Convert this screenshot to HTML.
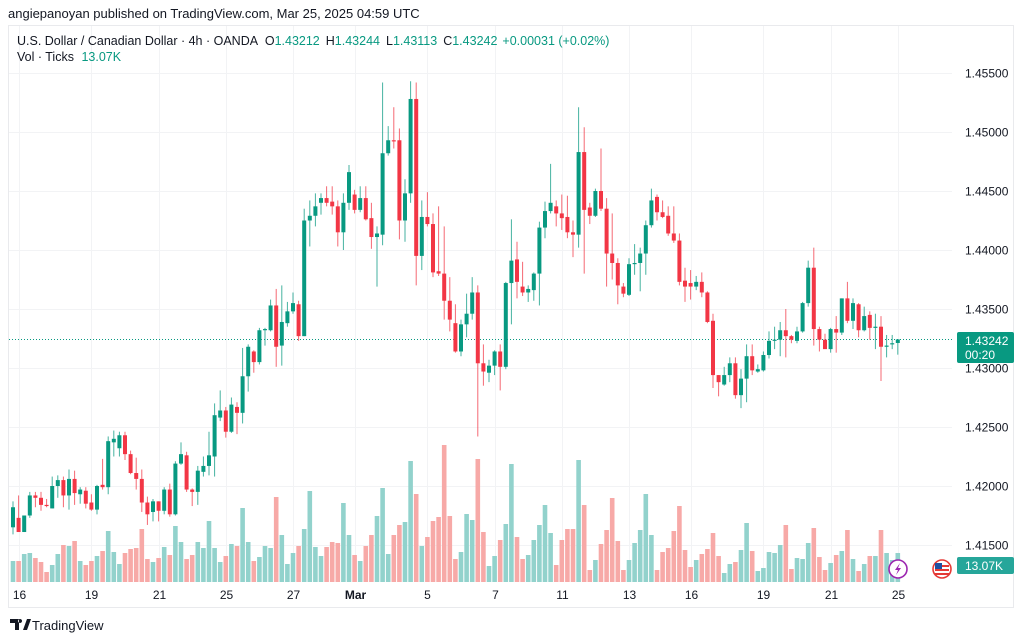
<!DOCTYPE html>
<html><head><meta charset="utf-8"><style>
html,body{margin:0;padding:0;background:#fff;width:1024px;height:641px;overflow:hidden;font-family:"Liberation Sans",sans-serif;}
#wrap{position:relative;width:1024px;height:641px;}
svg text{font-family:"Liberation Sans",sans-serif;}
</style></head><body><div id="wrap">
<svg id="chart" width="1024" height="641">
<text x="8" y="18" font-size="13" fill="#131722">angiepanoyan published on TradingView.com, Mar 25, 2025 04:59 UTC</text>
<rect x="8.5" y="25.5" width="1005" height="582" fill="none" stroke="#e9eaed"/>
<g id="grid"></g>
<g id="vol"></g>
<line x1="9" x2="952" y1="339.5" y2="339.5" stroke="#089981" stroke-dasharray="1,2"/>
<g id="candles"></g>
<g id="yaxis"></g>
<g id="xaxis"></g>
<text x="17" y="45" font-size="12.5" fill="#131722">U.S. Dollar / Canadian Dollar · 4h · OANDA <tspan dx="4">O</tspan><tspan fill="#089981">1.43212</tspan><tspan dx="6">H</tspan><tspan fill="#089981">1.43244</tspan><tspan dx="6">L</tspan><tspan fill="#089981">1.43113</tspan><tspan dx="6">C</tspan><tspan fill="#089981">1.43242</tspan><tspan dx="5" fill="#089981">+0.00031 (+0.02%)</tspan></text>
<text x="17" y="61" font-size="12.5" fill="#131722">Vol · Ticks <tspan dx="4" fill="#089981">13.07K</tspan></text>
<rect x="957" y="332" width="57" height="31" rx="2" fill="#089981"/>
<text x="965" y="345" font-size="12" fill="#fff">1.43242</text>
<text x="965" y="359" font-size="12" fill="#fff">00:20</text>
<rect x="957" y="557" width="57" height="17" rx="2" fill="#26a69a"/>
<text x="965" y="570" font-size="12" fill="#fff">13.07K</text>
<g><circle cx="898" cy="569" r="9" fill="#fff" stroke="#9c27b0" stroke-width="1.6"/><path d="M900 563 L895 570 L898 570 L896 575 L901 568 L898 568 Z" fill="#9c27b0"/></g>
<g><circle cx="942" cy="569" r="9" fill="#fff" stroke="#e53935" stroke-width="1.6"/><rect x="935" y="565" width="14" height="2" fill="#e53935"/><rect x="935" y="569" width="14" height="2" fill="#e53935"/><rect x="935" y="573" width="14" height="2" fill="#e53935"/><rect x="935" y="563" width="7" height="6" fill="#1e4fa1"/></g>
<g><path d="M10 619 h9 v11 h-4 v-7 h-5 z M20 619 a2 2 0 1 0 0.1 0 z M23 630 l4 -11 h4 l-4 11 z" fill="#131722"/><text x="32" y="630" font-size="13" fill="#131722">TradingView</text></g>
</svg></div>
<script>
const opens=[1.4165,1.4173,1.4161,1.4175,1.4192,1.4190,1.4184,1.4181,1.4200,1.4205,1.4192,1.4206,1.4193,1.4196,1.4186,1.4180,1.4201,1.4199,1.4237,1.4232,1.4243,1.4227,1.4211,1.4206,1.4186,1.4178,1.4187,1.4179,1.4197,1.4176,1.4219,1.4226,1.4197,1.4195,1.4212,1.4217,1.4225,1.4258,1.4264,1.4246,1.4267,1.4262,1.4293,1.4314,1.4305,1.4332,1.4332,1.4353,1.4319,1.4338,1.4348,1.4354,1.4327,1.4425,1.4429,1.4440,1.4444,1.4441,1.4437,1.4415,1.4440,1.4447,1.4434,1.4444,1.4427,1.4411,1.4413,1.4482,1.4493,1.4493,1.4425,1.4448,1.4528,1.4395,1.4428,1.4422,1.4382,1.4380,1.4357,1.4338,1.4314,1.4337,1.4346,1.4364,1.4304,1.4296,1.4302,1.4314,1.4301,1.4372,1.4392,1.4369,1.4364,1.4366,1.4380,1.4419,1.4433,1.4437,1.4431,1.4428,1.4415,1.4413,1.4483,1.4436,1.4429,1.4450,1.4435,1.4397,1.4389,1.4369,1.4362,1.4388,1.4389,1.4397,1.4421,1.4445,1.4432,1.4429,1.4414,1.4408,1.4374,1.4372,1.4369,1.4373,1.4364,1.4340,1.4294,1.4286,1.4294,1.4304,1.4277,1.4291,1.4310,1.4297,1.4298,1.4311,1.4323,1.4324,1.4332,1.4327,1.4323,1.4331,1.4355,1.4385,1.4333,1.4324,1.4316,1.4333,1.4330,1.4359,1.4340,1.4354,1.4332,1.4345,1.4334,1.4335,1.4318,1.4320,1.43212];
const highs=[1.4187,1.4192,1.4175,1.4195,1.4195,1.4195,1.4189,1.4208,1.4209,1.4208,1.4214,1.4213,1.4199,1.4199,1.4193,1.4201,1.4223,1.4242,1.4247,1.4246,1.4246,1.4230,1.4224,1.4214,1.4191,1.4189,1.4187,1.4199,1.4202,1.4221,1.4237,1.4229,1.4198,1.4217,1.4225,1.4246,1.4270,1.4281,1.4267,1.4275,1.4271,1.4317,1.4320,1.4315,1.4334,1.4334,1.4358,1.4367,1.4370,1.4356,1.4364,1.4357,1.4435,1.4442,1.4448,1.4448,1.4454,1.4454,1.4442,1.4448,1.4472,1.4451,1.4454,1.4454,1.4440,1.4420,1.4542,1.4505,1.4521,1.4503,1.4460,1.4543,1.4542,1.4442,1.4449,1.4431,1.4437,1.4420,1.4377,1.4354,1.4341,1.4363,1.4377,1.4370,1.4320,1.4307,1.4315,1.4320,1.4373,1.4426,1.4407,1.4390,1.4370,1.4381,1.4424,1.4441,1.4473,1.4442,1.4447,1.4446,1.4425,1.4521,1.4504,1.4440,1.4452,1.4486,1.4444,1.4431,1.4393,1.4372,1.4393,1.4405,1.4402,1.4425,1.4452,1.4447,1.4442,1.4437,1.4437,1.4414,1.4385,1.4383,1.4378,1.4381,1.4365,1.4346,1.4294,1.4301,1.4309,1.4309,1.4299,1.4320,1.4320,1.4303,1.4314,1.4331,1.4335,1.4339,1.4350,1.4328,1.4335,1.4356,1.4391,1.4402,1.4335,1.4329,1.4334,1.4344,1.4359,1.4373,1.4359,1.4355,1.4352,1.4348,1.4346,1.4344,1.4328,1.4328,1.43244];
const lows=[1.4159,1.4161,1.4161,1.4173,1.4182,1.4179,1.4182,1.4181,1.4190,1.4182,1.4180,1.4184,1.4185,1.4181,1.4179,1.4176,1.4197,1.4193,1.4225,1.4225,1.4222,1.4210,1.4197,1.4178,1.4167,1.4170,1.4170,1.4176,1.4174,1.4175,1.4218,1.4195,1.4183,1.4184,1.4208,1.4209,1.4208,1.4255,1.4241,1.4245,1.4244,1.4253,1.4280,1.4296,1.4303,1.4319,1.4331,1.4301,1.4302,1.4335,1.4346,1.4323,1.4327,1.4403,1.4420,1.4430,1.4437,1.4430,1.4403,1.4400,1.4434,1.4431,1.4432,1.4425,1.4401,1.4369,1.4404,1.4480,1.4486,1.4409,1.4407,1.4440,1.4370,1.4383,1.4420,1.4377,1.4378,1.4341,1.4331,1.4313,1.4310,1.4326,1.4341,1.4242,1.4285,1.4288,1.4294,1.4281,1.4299,1.4337,1.4359,1.4361,1.4356,1.4357,1.4353,1.4410,1.4431,1.4420,1.4417,1.4410,1.4394,1.4402,1.4380,1.4422,1.4428,1.4433,1.4369,1.4375,1.4354,1.4360,1.4361,1.4379,1.4365,1.4379,1.4419,1.4425,1.4427,1.4412,1.4406,1.4370,1.4356,1.4358,1.4366,1.4360,1.4338,1.4283,1.4276,1.4285,1.4288,1.4274,1.4266,1.4271,1.4294,1.4296,1.4297,1.4308,1.4316,1.4310,1.4309,1.4321,1.4321,1.4330,1.4352,1.4319,1.4314,1.4319,1.4313,1.4313,1.4328,1.4338,1.4333,1.4326,1.4331,1.4324,1.4316,1.4289,1.4309,1.4316,1.43113];
const closes=[1.4182,1.4161,1.4175,1.4192,1.4190,1.4184,1.4183,1.4200,1.4205,1.4192,1.4206,1.4194,1.4197,1.4185,1.4180,1.4200,1.4199,1.4238,1.4240,1.4243,1.4227,1.4211,1.4206,1.4186,1.4176,1.4187,1.4179,1.4197,1.4176,1.4219,1.4227,1.4197,1.4195,1.4213,1.4217,1.4226,1.4260,1.4264,1.4246,1.4269,1.4262,1.4293,1.4318,1.4305,1.4332,1.4333,1.4353,1.4318,1.4339,1.4348,1.4355,1.4327,1.4425,1.4429,1.4437,1.4444,1.4440,1.4437,1.4415,1.4440,1.4466,1.4434,1.4444,1.4426,1.4411,1.4414,1.4482,1.4493,1.4492,1.4425,1.4448,1.4528,1.4395,1.4428,1.4422,1.4381,1.4380,1.4357,1.4341,1.4314,1.4337,1.4346,1.4364,1.4304,1.4297,1.4302,1.4314,1.4301,1.4372,1.4391,1.4373,1.4364,1.4367,1.4380,1.4419,1.4433,1.4440,1.4431,1.4427,1.4415,1.4413,1.4483,1.4434,1.4429,1.4450,1.4435,1.4397,1.4389,1.4370,1.4363,1.4388,1.4389,1.4397,1.4421,1.4442,1.4432,1.4428,1.4414,1.4408,1.4373,1.4369,1.4369,1.4373,1.4364,1.4339,1.4294,1.4288,1.4294,1.4304,1.4277,1.4291,1.4310,1.4298,1.4299,1.4311,1.4323,1.4324,1.4332,1.4327,1.4324,1.4331,1.4355,1.4385,1.4333,1.4324,1.4316,1.4333,1.4330,1.4359,1.4340,1.4355,1.4332,1.4344,1.4334,1.4335,1.4318,1.4319,1.4321,1.43242];
const volumes=[21,21,28,29,24,20,10,17,28,37,36,41,21,17,21,26,31,51,30,18,29,33,34,53,23,20,24,35,27,56,40,23,27,40,34,61,34,20,26,38,36,74,40,21,25,36,34,85,47,18,29,36,53,91,35,26,35,40,39,79,47,27,21,36,47,66,94,28,47,57,60,121,88,36,45,61,65,137,66,23,30,68,62,123,50,16,26,42,58,118,45,23,27,42,57,77,49,17,42,53,53,122,77,12,22,38,52,84,41,12,22,39,52,88,47,12,30,34,51,76,32,15,22,28,33,49,26,9,18,20,32,59,31,11,14,30,29,37,57,13,24,23,39,54,25,12,19,27,31,52,23,11,18,26,26,52,29,22,29];
const priceTicks=[1.415,1.42,1.425,1.43,1.435,1.44,1.445,1.45,1.455];
const dateLabels=["16","19","21","25","27","Mar","5","7","11","13","16","19","21","25"];
const dateIndex=[1,14,26,38,50,61,74,86,98,110,121,134,146,158];

const NS="http://www.w3.org/2000/svg";
function mk(tag,attrs,parent){const e=document.createElementNS(NS,tag);for(const k in attrs)e.setAttribute(k,attrs[k]);parent.appendChild(e);return e;}
const yP=p=>250-(p-1.44)*11800;
const xI=i=>13+i*5.6;
const yV=v=>582-v;
const grid=document.getElementById('grid'),yax=document.getElementById('yaxis'),xax=document.getElementById('xaxis');
priceTicks.forEach(p=>{
  const y=Math.round(yP(p))+0.5;
  const l=mk('line',{x1:9,x2:952,y1:y,y2:y,stroke:'#f2f3f5'},grid);
  
  
  const t=mk('text',{x:965,y:y+4,'font-size':12,fill:'#131722'},yax);
  t.textContent=p.toFixed(5);
  
  
});
dateLabels.forEach((d,k)=>{
  const x=Math.round(xI(dateIndex[k]))+0.5;
  const l=mk('line',{x1:x,x2:x,y1:26,y2:582,stroke:'#f2f3f5'},grid);
  
  
  const t=mk('text',{x:x,y:599,'font-size':12,fill:'#131722','text-anchor':'middle','font-weight':d==='Mar'?'bold':'normal'},xax);
  t.textContent=d;
  
  
});
const vg=document.getElementById('vol'),cg=document.getElementById('candles');
opens.forEach((o,i)=>{
  const c=closes[i],up=c>=o,x=xI(i);
  const vb=mk('rect',{x:x-2.3,y:yV(volumes[i]),width:4.6,height:volumes[i],fill:up?'#92d2cc':'#f7a9a7'},vg);
  
  
  const col=up?'#089981':'#f23645';
  const w=mk('line',{x1:x,x2:x,y1:yP(highs[i]),y2:yP(lows[i]),stroke:col,'stroke-width':1,opacity:0.75},cg);
  
  
  const top=yP(Math.max(o,c)),bot=yP(Math.min(o,c));
  const b=mk('rect',{x:x-2,y:top,width:4,height:Math.max(1,bot-top),fill:col},cg);
  
  
});
</script></body></html>
